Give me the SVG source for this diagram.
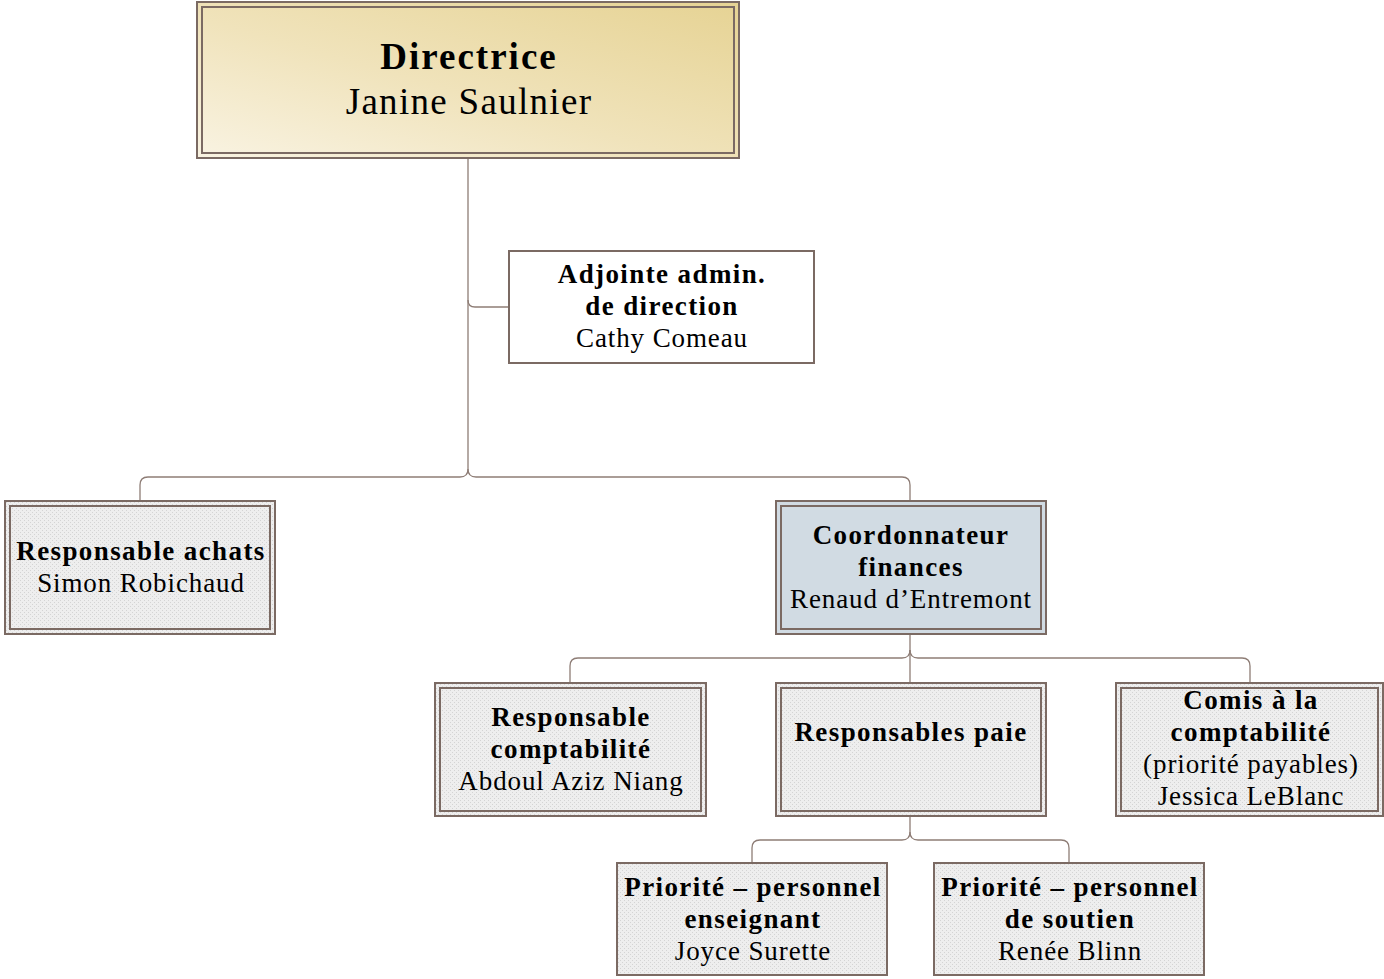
<svg xmlns="http://www.w3.org/2000/svg" width="1384" height="979" viewBox="0 0 1384 979">
<defs>
<linearGradient id="gold" x1="0" y1="1" x2="1" y2="0">
<stop offset="0" stop-color="#f9f3e2"/>
<stop offset="0.45" stop-color="#f0e3bb"/>
<stop offset="1" stop-color="#e6d394"/>
</linearGradient>
<pattern id="dots" width="4" height="4" patternUnits="userSpaceOnUse">
<rect width="4" height="4" fill="#eeeeee"/>
<rect x="0" y="0" width="1" height="1" fill="#d4d4d4"/>
<rect x="2" y="2" width="1" height="1" fill="#d4d4d4"/>
</pattern>
</defs>
<style>
.outer{stroke:#7b6a63;stroke-width:2;}
.inner{fill:none;stroke:#7b6a63;stroke-width:2;}
.conn{fill:none;stroke:#8e7d76;stroke-width:1.3;}
text{font-family:"Liberation Serif","Times New Roman",serif;font-size:27px;fill:#000;text-anchor:middle;letter-spacing:0.9px;}
.b{font-weight:bold;letter-spacing:1.4px;}
.big{font-size:37px;letter-spacing:1.3px;}
.big.b{letter-spacing:2px;}
</style>
<rect width="1384" height="979" fill="#ffffff"/>
<g id="connectors">
<path class="conn" d="M468,159 V300 Q468,307 475,307 H508"/>
<path class="conn" d="M468,300 V469 Q468,477 460,477 H148 Q140,477 140,485 V500"/>
<path class="conn" d="M468,469 Q468,477 476,477 H902 Q910,477 910,485 V500"/>
<path class="conn" d="M910,635 V650 Q910,658 902,658 H578 Q570,658 570,666 V682"/>
<path class="conn" d="M910,650 Q910,658 918,658 H1242 Q1250,658 1250,666 V682"/>
<path class="conn" d="M910,650 V682"/>
<path class="conn" d="M910,817 V832 Q910,840 902,840 H760 Q752,840 752,848 V862"/>
<path class="conn" d="M910,832 Q910,840 918,840 H1061 Q1069,840 1069,848 V862"/>
</g>
<g id="directrice">
<rect class="outer" x="197" y="2" width="542" height="156" fill="url(#gold)"/>
<rect class="inner" x="202" y="7" width="532" height="146"/>
<text class="b big" x="469" y="69">Directrice</text>
<text class="big" x="469" y="114">Janine Saulnier</text>
</g>
<g id="adjointe">
<rect class="outer" x="509" y="251" width="305" height="112" fill="#ffffff"/>
<text class="b" x="662" y="283">Adjointe admin.</text>
<text class="b" x="662" y="315">de direction</text>
<text x="662" y="347">Cathy Comeau</text>
</g>
<g id="achats">
<rect class="outer" x="5" y="501" width="270" height="133" fill="url(#dots)"/>
<rect class="inner" x="10" y="506" width="260" height="123"/>
<text class="b" x="141" y="560">Responsable achats</text>
<text x="141" y="592">Simon Robichaud</text>
</g>
<g id="coordonnateur">
<rect class="outer" x="776" y="501" width="270" height="133" fill="#d1dbe3"/>
<rect class="inner" x="781" y="506" width="260" height="123"/>
<text class="b" x="911" y="544">Coordonnateur</text>
<text class="b" x="911" y="576">finances</text>
<text x="911" y="608">Renaud d’Entremont</text>
</g>
<g id="comptabilite">
<rect class="outer" x="435" y="683" width="271" height="133" fill="url(#dots)"/>
<rect class="inner" x="440" y="688" width="261" height="123"/>
<text class="b" x="571" y="726">Responsable</text>
<text class="b" x="571" y="758">comptabilité</text>
<text x="571" y="790">Abdoul Aziz Niang</text>
</g>
<g id="paie">
<rect class="outer" x="776" y="683" width="270" height="133" fill="url(#dots)"/>
<rect class="inner" x="781" y="688" width="260" height="123"/>
<text class="b" x="911" y="741">Responsables paie</text>
</g>
<g id="comis">
<rect class="outer" x="1116" y="683" width="267" height="133" fill="url(#dots)"/>
<rect class="inner" x="1121" y="688" width="257" height="123"/>
<text class="b" x="1251" y="709">Comis à la</text>
<text class="b" x="1251" y="741">comptabilité</text>
<text x="1251" y="773">(priorité payables)</text>
<text x="1251" y="805">Jessica LeBlanc</text>
</g>
<g id="enseignant">
<rect class="outer" x="617" y="863" width="270" height="112" fill="url(#dots)"/>
<text class="b" x="753" y="896">Priorité – personnel</text>
<text class="b" x="753" y="928">enseignant</text>
<text x="753" y="960">Joyce Surette</text>
</g>
<g id="soutien">
<rect class="outer" x="934" y="863" width="270" height="112" fill="url(#dots)"/>
<text class="b" x="1070" y="896">Priorité – personnel</text>
<text class="b" x="1070" y="928">de soutien</text>
<text x="1070" y="960">Renée Blinn</text>
</g>
</svg>
